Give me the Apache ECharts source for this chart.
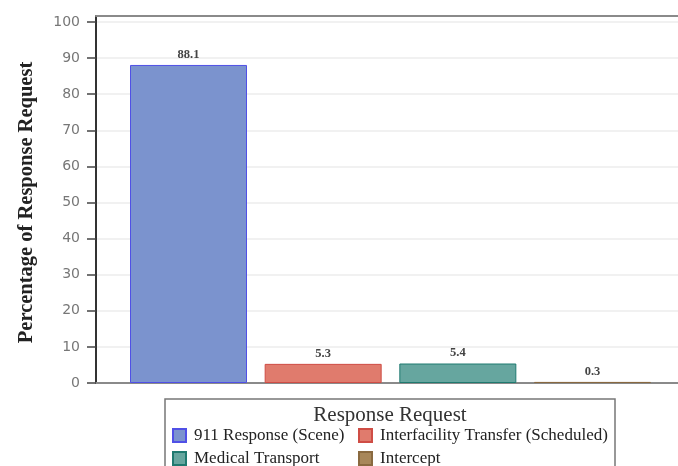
<!DOCTYPE html>
<html>
<head>
<meta charset="utf-8">
<script src="https://cdn.jsdelivr.net/npm/echarts@6/dist/echarts.min.js"></script>
<style>html,body{margin:0;padding:0;background:#fff;}#c{width:678px;height:466px;}</style>
</head>
<body>
<div id="c"></div>
<script>
const categories = ['911 Response (Scene)', 'Interfacility Transfer (Scheduled)', 'Medical Transport', 'Intercept'];
const values = [88.1, 5.3, 5.4, 0.3];
const colors = ['#7B93CE', '#E07B6D', '#66A69F', '#A8875A'];
const borders = ['#5050e6', '#cf4d45', '#1f7a70', '#8a6a40'];
const yTicks = [0, 10, 20, 30, 40, 50, 60, 70, 80, 90, 100];

const chart = echarts.init(document.getElementById('c'), null, {renderer: 'canvas'});
const serif = '"Liberation Serif", "Times New Roman", serif';

const series = categories.map((name, i) => ({
  name: name,
  type: 'bar',
  stack: 'all',
  xAxisIndex: 0,
  yAxisIndex: 0,
  barWidth: 117,
  data: [[i, values[i]]],
  itemStyle: {color: colors[i], borderColor: borders[i], borderWidth: 1},
  label: {
    show: true, position: 'top', distance: 4,
    formatter: p => p.value[1].toFixed(1),
    fontFamily: serif, fontSize: 12.5, fontWeight: 'bold', color: '#444'
  }
}));

const legendCommon = {
  orient: 'vertical', top: 427, height: 44, padding: 0,
  itemWidth: 13, itemHeight: 13, itemGap: 6, icon: 'rect',
  textStyle: {fontFamily: serif, fontSize: 17, color: '#222', padding: [0, 0, 0, 3]}
};

chart.setOption({
  animation: false,
  backgroundColor: '#fff',
  title: {
    text: 'Response Request',
    left: 385, top: 400, textAlign: 'center',
    textStyle: {fontFamily: serif, fontSize: 21, fontWeight: 'normal', color: '#333'}
  },
  grid: [
    {left: 96, right: 0, top: 22, bottom: 83},
    {left: 96, right: 0, top: 16, bottom: 83}
  ],
  xAxis: [
    {gridIndex: 0, type: 'value', min: -0.687, max: 3.635,
     axisLine: {show: true, onZero: false, lineStyle: {color: '#8a8a8a', width: 2}},
     axisTick: {show: false}, axisLabel: {show: false}, splitLine: {show: false}},
    {gridIndex: 1, type: 'value', position: 'top', min: 0, max: 1,
     axisLine: {show: true, onZero: false, lineStyle: {color: '#8a8a8a', width: 2}},
     axisTick: {show: false}, axisLabel: {show: false}, splitLine: {show: false}}
  ],
  yAxis: [
    {gridIndex: 0, type: 'value', min: yTicks[0], max: yTicks[yTicks.length - 1], interval: 10,
     name: 'Percentage of Response Request', nameLocation: 'middle', nameGap: 59,
     nameTextStyle: {fontFamily: serif, fontSize: 20.5, fontWeight: 'bold', color: '#222'},
     axisLine: {show: true, onZero: false, lineStyle: {color: '#333', width: 2}},
     axisTick: {show: true, length: 9, lineStyle: {color: '#444', width: 1.5}},
     axisLabel: {fontFamily: '"DejaVu Sans", sans-serif', fontSize: 14, color: '#777', margin: 16},
     splitLine: {show: true, lineStyle: {color: '#ececec', width: 1.5}}},
    {gridIndex: 1, type: 'value', min: 0, max: 1,
     axisLine: {show: true, onZero: false, lineStyle: {color: '#333', width: 2}},
     axisTick: {show: false}, axisLabel: {show: false}, splitLine: {show: false}}
  ],
  legend: [
    Object.assign({data: [categories[0], categories[2]], left: 172}, legendCommon),
    Object.assign({data: [categories[1], categories[3]], left: 358}, legendCommon)
  ],
  graphic: [
    {type: 'rect', shape: {x: 165, y: 399, width: 450, height: 80},
     style: {fill: 'none', stroke: '#777', lineWidth: 1.5}, silent: true}
  ],
  series: series
});
</script>
</body>
</html>
